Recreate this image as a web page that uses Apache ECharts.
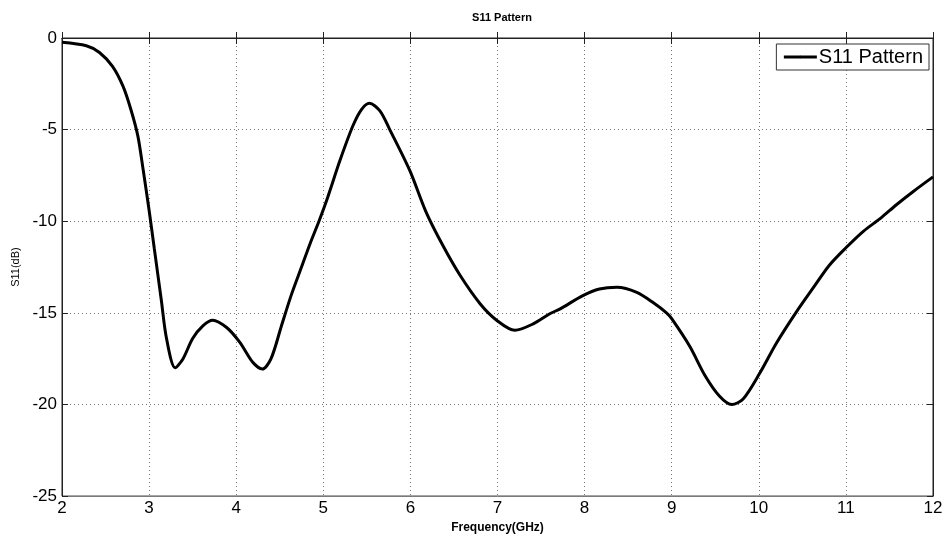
<!DOCTYPE html>
<html>
<head>
<meta charset="utf-8">
<script src="https://cdn.jsdelivr.net/npm/echarts@6/dist/echarts.min.js"></script>
<style>html,body{margin:0;padding:0;background:#fff}#c{width:947px;height:539px}</style>
</head>
<body>
<div id="c"></div>
<script>
const freq = [2.0,2.28,2.43,2.58,2.70,2.79,2.87,2.93,3.0,3.06,3.14,3.20,3.30,3.39,3.50,3.62,3.73,3.89,4.04,4.19,4.30,4.40,4.52,4.63,4.75,4.85,4.95,5.05,5.19,5.34,5.44,5.53,5.65,5.76,5.99,6.18,6.37,6.57,6.80,6.99,7.20,7.41,7.60,7.72,7.98,8.17,8.37,8.60,8.79,8.94,9.0,9.21,9.38,9.55,9.69,9.82,10.01,10.2,10.43,10.63,10.81,11.0,11.2,11.4,11.58,11.77,12.0];
const s11 = [-0.23,-0.42,-0.79,-1.55,-2.63,-3.89,-5.33,-7.13,-9.4,-11.5,-14.3,-16.4,-18.0,-17.5,-16.4,-15.7,-15.4,-15.8,-16.6,-17.7,-18.07,-17.5,-15.7,-14.06,-12.5,-11.2,-10.0,-8.7,-6.7,-4.79,-3.89,-3.56,-3.98,-4.97,-7.2,-9.5,-11.3,-12.95,-14.5,-15.4,-15.95,-15.6,-15.05,-14.78,-14.06,-13.7,-13.6,-13.88,-14.45,-15.0,-15.32,-16.85,-18.4,-19.55,-20.0,-19.7,-18.3,-16.67,-14.96,-13.6,-12.4,-11.45,-10.55,-9.83,-9.1,-8.39,-7.58];
const seriesName = 'S11 Pattern';
const titleText = 'S11 Pattern';
const xName = 'Frequency(GHz)';
const yName = 'S11(dB)';

const chart = echarts.init(document.getElementById('c'));
const font = 'Liberation Sans, Arial, sans-serif';
const dotted = {show:true, lineStyle:{color:'#777', type:[1,3], width:1}};
chart.setOption({
  animation:false,
  title:{text:titleText, left:497, top:7, textAlign:'center',
    textStyle:{fontFamily:font, fontSize:11, fontWeight:'bold', color:'#000'}},
  legend:{right:18, top:44, data:[seriesName], itemWidth:33, itemHeight:3,
    backgroundColor:'#fff', borderColor:'#333', borderWidth:1, padding:[3,6,3,6], borderRadius:0,
    lineStyle:{width:3, color:'#000'},
    textStyle:{fontFamily:font, fontSize:20, color:'#000', padding:[0,0,0,-3]}},
  grid:{left:62, right:14, top:38, bottom:38, show:true, borderColor:'#222', borderWidth:1},
  xAxis:[{type:'value', min:2, max:12, interval:1,
    name:xName, nameLocation:'middle', nameGap:24,
    nameTextStyle:{fontFamily:font, fontSize:12, fontWeight:'bold', color:'#000'},
    axisLine:{show:true, lineStyle:{color:'#222'}},
    axisTick:{show:true, inside:true, length:6, lineStyle:{color:'#222'}},
    axisLabel:{fontFamily:font, fontSize:17, color:'#000', margin:4},
    splitLine:dotted},
   {type:'value', min:2, max:12, interval:1, position:'top',
    axisLine:{show:true, lineStyle:{color:'#222'}},
    axisTick:{show:true, inside:true, length:6, lineStyle:{color:'#222'}},
    axisLabel:{show:false}, splitLine:{show:false}}],
  yAxis:[{type:'value', min:-25, max:0, interval:5,
    name:yName, nameLocation:'middle', nameGap:40, nameRotate:90,
    nameTextStyle:{fontFamily:font, fontSize:11, color:'#000'},
    axisLine:{show:true, lineStyle:{color:'#222'}},
    axisTick:{show:true, inside:true, length:6, lineStyle:{color:'#222'}},
    axisLabel:{fontFamily:font, fontSize:17, color:'#000', margin:5},
    splitLine:dotted},
   {type:'value', min:-25, max:0, interval:5, position:'right',
    axisLine:{show:true, lineStyle:{color:'#222'}},
    axisTick:{show:true, inside:true, length:6, lineStyle:{color:'#222'}},
    axisLabel:{show:false}, splitLine:{show:false}}],
  series:[{name:seriesName, type:'line', data:freq.map((f,i)=>[f,s11[i]]),
    smooth:0.3, showSymbol:false, symbol:'none',
    lineStyle:{color:'#000', width:3}, itemStyle:{color:'#000'}}]
});
</script>
</body>
</html>
